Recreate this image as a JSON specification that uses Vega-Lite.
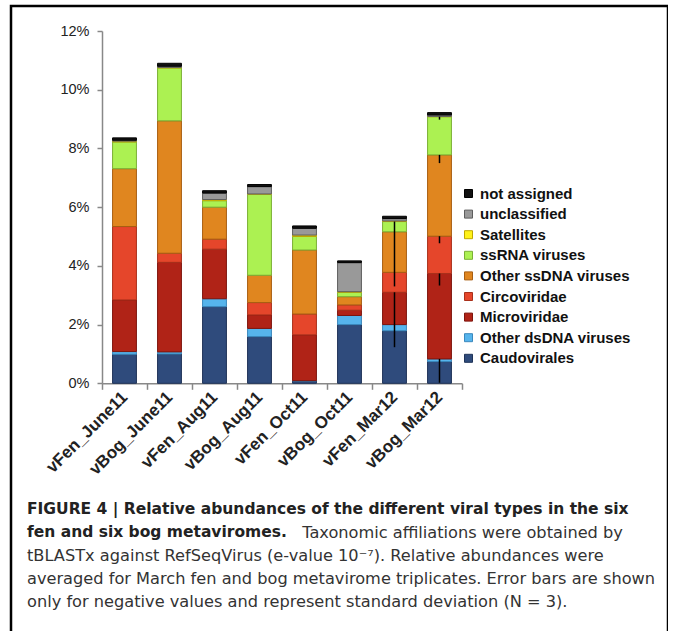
{
  "$schema": "https://vega.github.io/schema/vega-lite/v6.json",
  "width": 657,
  "height": 628,
  "autosize": {"type": "none"},
  "padding": {"left": 11, "top": 6, "right": 0, "bottom": -3},
  "background": "white",
  "config": {
    "view": {"stroke": "#000000", "strokeWidth": 2.5},
    "font": "Liberation Sans"
  },
  "title": {
    "text": ["FIGURE 4 | Relative abundances of the different viral types in the six", "fen and six bog metaviromes."],
    "subtitle": ["\u200b\u2003\u2003\u2003\u2003\u2003\u2003\u2003\u2003\u2003\u2003\u2003\u2003\u2003\u2003\u2003\u2003\u2003Taxonomic affiliations were obtained by", "tBLASTx against RefSeqVirus (e-value 10\u207b\u2077). Relative abundances were", "averaged for March fen and bog metavirome triplicates. Error bars are shown", "only for negative values and represent standard deviation (N = 3)."],
    "orient": "bottom",
    "anchor": "start",
    "frame": "group",
    "offset": -132,
    "dx": 16,
    "font": "DejaVu Sans",
    "fontSize": 15.5,
    "fontWeight": "bold",
    "color": "#222222",
    "lineHeight": 23,
    "subtitleFont": "DejaVu Sans",
    "subtitleFontSize": 16.2,
    "subtitleColor": "#333333",
    "subtitleLineHeight": 23,
    "subtitlePadding": -16
  },
  "datasets": {
    "abundance": [
      {"sample": "vFen_June11", "type": "Caudovirales", "percent": 0.99},
      {"sample": "vFen_June11", "type": "Other dsDNA viruses", "percent": 0.09},
      {"sample": "vFen_June11", "type": "Microviridae", "percent": 1.76},
      {"sample": "vFen_June11", "type": "Circoviridae", "percent": 2.50},
      {"sample": "vFen_June11", "type": "Other ssDNA viruses", "percent": 1.97},
      {"sample": "vFen_June11", "type": "ssRNA viruses", "percent": 0.91},
      {"sample": "vFen_June11", "type": "Satellites", "percent": 0.03},
      {"sample": "vFen_June11", "type": "unclassified", "percent": 0.03},
      {"sample": "vFen_June11", "type": "not assigned", "percent": 0.08},
      {"sample": "vBog_June11", "type": "Caudovirales", "percent": 1.00},
      {"sample": "vBog_June11", "type": "Other dsDNA viruses", "percent": 0.07},
      {"sample": "vBog_June11", "type": "Microviridae", "percent": 3.05},
      {"sample": "vBog_June11", "type": "Circoviridae", "percent": 0.31},
      {"sample": "vBog_June11", "type": "Other ssDNA viruses", "percent": 4.51},
      {"sample": "vBog_June11", "type": "ssRNA viruses", "percent": 1.80},
      {"sample": "vBog_June11", "type": "Satellites", "percent": 0.02},
      {"sample": "vBog_June11", "type": "unclassified", "percent": 0.04},
      {"sample": "vBog_June11", "type": "not assigned", "percent": 0.10},
      {"sample": "vFen_Aug11", "type": "Caudovirales", "percent": 2.61},
      {"sample": "vFen_Aug11", "type": "Other dsDNA viruses", "percent": 0.27},
      {"sample": "vFen_Aug11", "type": "Microviridae", "percent": 1.69},
      {"sample": "vFen_Aug11", "type": "Circoviridae", "percent": 0.34},
      {"sample": "vFen_Aug11", "type": "Other ssDNA viruses", "percent": 1.09},
      {"sample": "vFen_Aug11", "type": "ssRNA viruses", "percent": 0.22},
      {"sample": "vFen_Aug11", "type": "Satellites", "percent": 0.04},
      {"sample": "vFen_Aug11", "type": "unclassified", "percent": 0.22},
      {"sample": "vFen_Aug11", "type": "not assigned", "percent": 0.08},
      {"sample": "vBog_Aug11", "type": "Caudovirales", "percent": 1.59},
      {"sample": "vBog_Aug11", "type": "Other dsDNA viruses", "percent": 0.28},
      {"sample": "vBog_Aug11", "type": "Microviridae", "percent": 0.46},
      {"sample": "vBog_Aug11", "type": "Circoviridae", "percent": 0.42},
      {"sample": "vBog_Aug11", "type": "Other ssDNA viruses", "percent": 0.93},
      {"sample": "vBog_Aug11", "type": "ssRNA viruses", "percent": 2.76},
      {"sample": "vBog_Aug11", "type": "Satellites", "percent": 0.01},
      {"sample": "vBog_Aug11", "type": "unclassified", "percent": 0.25},
      {"sample": "vBog_Aug11", "type": "not assigned", "percent": 0.07},
      {"sample": "vFen_Oct11", "type": "Caudovirales", "percent": 0.08},
      {"sample": "vFen_Oct11", "type": "Other dsDNA viruses", "percent": 0.01},
      {"sample": "vFen_Oct11", "type": "Microviridae", "percent": 1.56},
      {"sample": "vFen_Oct11", "type": "Circoviridae", "percent": 0.71},
      {"sample": "vFen_Oct11", "type": "Other ssDNA viruses", "percent": 2.18},
      {"sample": "vFen_Oct11", "type": "ssRNA viruses", "percent": 0.46},
      {"sample": "vFen_Oct11", "type": "Satellites", "percent": 0.05},
      {"sample": "vFen_Oct11", "type": "unclassified", "percent": 0.23},
      {"sample": "vFen_Oct11", "type": "not assigned", "percent": 0.08},
      {"sample": "vBog_Oct11", "type": "Caudovirales", "percent": 2.00},
      {"sample": "vBog_Oct11", "type": "Other dsDNA viruses", "percent": 0.31},
      {"sample": "vBog_Oct11", "type": "Microviridae", "percent": 0.18},
      {"sample": "vBog_Oct11", "type": "Circoviridae", "percent": 0.18},
      {"sample": "vBog_Oct11", "type": "Other ssDNA viruses", "percent": 0.28},
      {"sample": "vBog_Oct11", "type": "ssRNA viruses", "percent": 0.15},
      {"sample": "vBog_Oct11", "type": "Satellites", "percent": 0.02},
      {"sample": "vBog_Oct11", "type": "unclassified", "percent": 0.99},
      {"sample": "vBog_Oct11", "type": "not assigned", "percent": 0.06},
      {"sample": "vFen_Mar12", "type": "Caudovirales", "percent": 1.79},
      {"sample": "vFen_Mar12", "type": "Other dsDNA viruses", "percent": 0.21},
      {"sample": "vFen_Mar12", "type": "Microviridae", "percent": 1.10},
      {"sample": "vFen_Mar12", "type": "Circoviridae", "percent": 0.68},
      {"sample": "vFen_Mar12", "type": "Other ssDNA viruses", "percent": 1.38},
      {"sample": "vFen_Mar12", "type": "ssRNA viruses", "percent": 0.35},
      {"sample": "vFen_Mar12", "type": "Satellites", "percent": 0.02},
      {"sample": "vFen_Mar12", "type": "unclassified", "percent": 0.08},
      {"sample": "vFen_Mar12", "type": "not assigned", "percent": 0.08},
      {"sample": "vBog_Mar12", "type": "Caudovirales", "percent": 0.74},
      {"sample": "vBog_Mar12", "type": "Other dsDNA viruses", "percent": 0.09},
      {"sample": "vBog_Mar12", "type": "Microviridae", "percent": 2.91},
      {"sample": "vBog_Mar12", "type": "Circoviridae", "percent": 1.27},
      {"sample": "vBog_Mar12", "type": "Other ssDNA viruses", "percent": 2.77},
      {"sample": "vBog_Mar12", "type": "ssRNA viruses", "percent": 1.30},
      {"sample": "vBog_Mar12", "type": "Satellites", "percent": 0.01},
      {"sample": "vBog_Mar12", "type": "unclassified", "percent": 0.05},
      {"sample": "vBog_Mar12", "type": "not assigned", "percent": 0.08}
    ],
    "spread": [
      {"sample": "vFen_Mar12", "type": "ssRNA viruses", "upper": 5.51, "lower": 3.30},
      {"sample": "vFen_Mar12", "type": "Microviridae", "upper": 3.10, "lower": 1.23},
      {"sample": "vBog_Mar12", "type": "ssRNA viruses", "upper": 9.08, "lower": 8.98},
      {"sample": "vBog_Mar12", "type": "Other ssDNA viruses", "upper": 7.78, "lower": 7.50},
      {"sample": "vBog_Mar12", "type": "Circoviridae", "upper": 5.01, "lower": 4.77},
      {"sample": "vBog_Mar12", "type": "Microviridae", "upper": 3.74, "lower": 3.33},
      {"sample": "vBog_Mar12", "type": "Other dsDNA viruses", "upper": 0.83, "lower": 0.02}
    ]
  },
  "layer": [
    {
      "data": {"name": "abundance"},
      "transform": [
        {"calculate": "indexof(['Caudovirales', 'Other dsDNA viruses', 'Microviridae', 'Circoviridae', 'Other ssDNA viruses', 'ssRNA viruses', 'Satellites', 'unclassified', 'not assigned'], datum.type)", "as": "stackOrder"}
      ],
      "mark": {"type": "bar", "width": {"band": 0.53}, "strokeWidth": 1},
      "encoding": {
        "x": {
          "field": "sample",
          "type": "nominal",
          "sort": ["vFen_June11", "vBog_June11", "vFen_Aug11", "vBog_Aug11", "vFen_Oct11", "vBog_Oct11", "vFen_Mar12", "vBog_Mar12"],
          "scale": {"range": [91, 451], "paddingInner": 0, "paddingOuter": 0},
          "axis": {
            "orient": "bottom",
            "offset": -250.7,
            "title": null,
            "tickBand": "extent",
            "labelAngle": -45,
            "labelAlign": "right",
            "labelBaseline": "middle",
            "labelFont": "Liberation Sans",
            "labelFontWeight": "bold",
            "labelFontSize": 17,
            "labelColor": "#222222",
            "labelPadding": 5,
            "domainColor": "#888888",
            "domainWidth": 1.5,
            "tickColor": "#888888",
            "tickWidth": 1.5,
            "tickSize": 6
          }
        },
        "y": {
          "field": "percent",
          "type": "quantitative",
          "stack": "zero",
          "scale": {"domain": [0, 12], "range": [377.3, 25], "nice": false, "zero": true},
          "axis": {
            "orient": "left",
            "offset": -91,
            "title": null,
            "grid": false,
            "values": [0, 2, 4, 6, 8, 10, 12],
            "labelExpr": "datum.value + '%'",
            "labelFont": "Liberation Sans",
            "labelFontSize": 14.5,
            "labelColor": "#222222",
            "labelPadding": 8,
            "domainColor": "#888888",
            "domainWidth": 1.5,
            "tickColor": "#888888",
            "tickWidth": 1.5,
            "tickSize": 5
          }
        },
        "order": {"field": "stackOrder", "type": "quantitative", "sort": "ascending"},
        "color": {
          "field": "type",
          "type": "nominal",
          "sort": ["not assigned", "unclassified", "Satellites", "ssRNA viruses", "Other ssDNA viruses", "Circoviridae", "Microviridae", "Other dsDNA viruses", "Caudovirales"],
          "scale": {
            "domain": ["not assigned", "unclassified", "Satellites", "ssRNA viruses", "Other ssDNA viruses", "Circoviridae", "Microviridae", "Other dsDNA viruses", "Caudovirales"],
            "range": ["#111111", "#999999", "#FFF21A", "#ACF152", "#E0861F", "#E5462B", "#B02317", "#56B4EC", "#2F4B7C"]
          },
          "legend": {
            "title": null,
            "orient": "none",
            "legendX": 450,
            "legendY": 180,
            "padding": 0,
            "symbolType": "square",
            "symbolSize": 64,
            "symbolStrokeColor": "#333333",
            "symbolStrokeWidth": 1,
            "labelFont": "Liberation Sans",
            "labelFontWeight": "bold",
            "labelFontSize": 15,
            "labelColor": "#111111",
            "labelOffset": 4,
            "rowPadding": 4.6
          }
        },
        "stroke": {
          "field": "type",
          "type": "nominal",
          "scale": {
            "domain": ["not assigned", "unclassified", "Satellites", "ssRNA viruses", "Other ssDNA viruses", "Circoviridae", "Microviridae", "Other dsDNA viruses", "Caudovirales"],
            "range": ["#000000", "#5E5E5E", "#C0A800", "#7BAF35", "#A85E12", "#A9301B", "#7E150D", "#3A88BD", "#1F3358"]
          },
          "legend": null
        }
      }
    },
    {
      "data": {"name": "spread"},
      "mark": {"type": "rule", "color": "#000000", "strokeWidth": 1.5},
      "encoding": {
        "x": {"field": "sample", "type": "nominal", "sort": ["vFen_June11", "vBog_June11", "vFen_Aug11", "vBog_Aug11", "vFen_Oct11", "vBog_Oct11", "vFen_Mar12", "vBog_Mar12"]},
        "y": {"field": "upper", "type": "quantitative"},
        "y2": {"field": "lower"}
      }
    }
  ]
}
